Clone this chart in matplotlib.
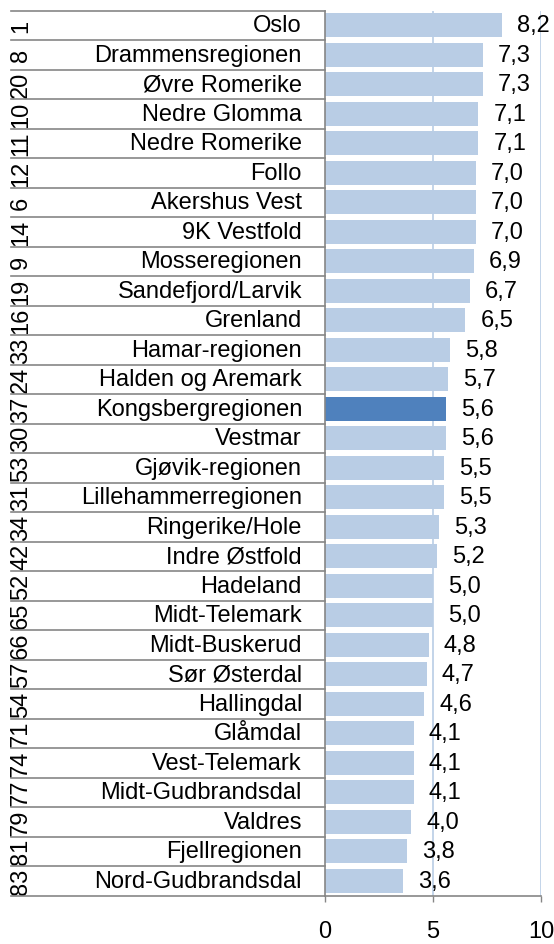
import matplotlib
matplotlib.use("Agg")
import matplotlib.pyplot as plt
import matplotlib.transforms as mtransforms

plt.rcParams['font.family'] = ['Liberation Sans', 'DejaVu Sans']

ranks = ["1", "8", "20", "10", "11", "12", "6", "14", "9", "19", "16", "33", "24", "37",
         "30", "53", "31", "34", "42", "52", "65", "66", "57", "54", "71", "74", "77",
         "79", "81", "83"]
regions = ["Oslo", "Drammensregionen", "Øvre Romerike", "Nedre Glomma", "Nedre Romerike",
           "Follo", "Akershus Vest", "9K Vestfold", "Mosseregionen", "Sandefjord/Larvik",
           "Grenland", "Hamar-regionen", "Halden og Aremark", "Kongsbergregionen", "Vestmar",
           "Gjøvik-regionen", "Lillehammerregionen", "Ringerike/Hole", "Indre Østfold",
           "Hadeland", "Midt-Telemark", "Midt-Buskerud", "Sør Østerdal", "Hallingdal",
           "Glåmdal", "Vest-Telemark", "Midt-Gudbrandsdal", "Valdres", "Fjellregionen",
           "Nord-Gudbrandsdal"]
values = [8.2, 7.3, 7.3, 7.1, 7.1, 7.0, 7.0, 7.0, 6.9, 6.7, 6.5, 5.8, 5.7, 5.6, 5.6,
          5.5, 5.5, 5.3, 5.2, 5.0, 5.0, 4.8, 4.7, 4.6, 4.1, 4.1, 4.1, 4.0, 3.8, 3.6]
highlight = "Kongsbergregionen"
xticks = [0, 5, 10]

W, H = 554, 945
fig = plt.figure(figsize=(W / 100, H / 100), dpi=100)
ax_left, ax_right = 325 / W, 541 / W
ax_top, ax_bot = 1 - 11.5 / H, 1 - 896.5 / H
ax = fig.add_axes([ax_left, ax_bot, ax_right - ax_left, ax_top - ax_bot])

n = len(values)
ypos = list(range(n))
colors = ["#4F81BD" if r == highlight else "#B9CDE5" for r in regions]
ax.barh(ypos, values, height=0.8, color=colors, zorder=2)
ax.set_ylim(n - 0.5, -0.5)
ax.set_xlim(0, 10)

for x in xticks[1:]:
    ax.axvline(x, color="#B9CDE5", lw=1.2, zorder=1)

fs = 17
for i, v in enumerate(values):
    ax.annotate(f"{v:.1f}".replace(".", ","), xy=(v, i), xytext=(15, 0),
                textcoords="offset pixels",
                ha="left", va="center", fontsize=fs, color="black", zorder=3,
                annotation_clip=False)

ax.set_yticks([])
ax.set_xticks(xticks)
ax.set_xticklabels([str(t) for t in xticks], fontsize=fs)
ax.tick_params(axis="x", length=4, width=1, color="#868686", direction="out", pad=14)

for s in ["top", "right"]:
    ax.spines[s].set_visible(False)
for s in ["left", "bottom"]:
    ax.spines[s].set_color("#868686")
    ax.spines[s].set_linewidth(1.2)

trans = mtransforms.blended_transform_factory(fig.transFigure, ax.transData)
x0 = 11 / W
for b in range(n + 1):
    yb = b - 0.5
    ax.plot([x0, ax_left], [yb, yb], transform=trans, color="#868686", lw=1.2,
            clip_on=False, zorder=4)

for i, (rk, nm) in enumerate(zip(ranks, regions)):
    ax.text(302 / W, i, nm, transform=trans, ha="right", va="center", fontsize=fs)
    ax.text(21 / W, i, rk, transform=trans, ha="center", va="center", fontsize=fs,
            rotation=90)

fig.savefig("out.png", dpi=100)
